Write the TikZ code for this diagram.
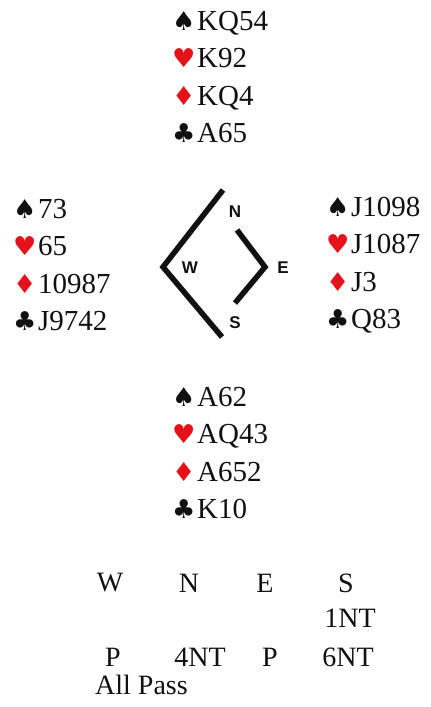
\documentclass[tikz,border=0pt]{standalone}
\usepackage{fontspec}
\setmainfont{Liberation Serif}
\setsansfont{Liberation Sans}
\newfontfamily\suitfont{DejaVu Sans}
\definecolor{SuitRed}{HTML}{E3121B}
\definecolor{Ink}{HTML}{111111}
\newcommand{\suitsym}[2]{\makebox[25pt][l]{\suitfont\fontsize{26}{26}\selectfont\textcolor{#1}{#2}}}
\newcommand{\spd}{\suitsym{Ink}{♠}}
\newcommand{\hrt}{\suitsym{SuitRed}{♥}}
\newcommand{\dmd}{\suitsym{SuitRed}{♦}}
\newcommand{\clb}{\suitsym{Ink}{♣}}
\tikzset{
  hand/.style={anchor=west,align=left,inner sep=0pt,text=Ink,font=\fontsize{29}{37.5}\selectfont},
  bid/.style={inner sep=0pt,text=Ink,font=\fontsize{28}{28}\selectfont},
  seat/.style={inner sep=0pt,text=Ink,font=\sffamily\bfseries\fontsize{17}{17}\selectfont},
  compass/.style={draw=Ink,line width=5.5pt,line join=miter}
}

\begin{document}
\begin{tikzpicture}[x=1pt,y=-1pt]
  \useasboundingbox[fill=white] (0,0) rectangle (431,707);

  % the four hands
  \node[hand] (north) at (172,77) {\spd KQ54\\\hrt K92\\\dmd KQ4\\\clb A65};
  \node[hand] (west) at (13,265) {\spd 73\\\hrt 65\\\dmd 10987\\\clb J9742};
  \node[hand] (east) at (326,265) {\spd J1098\\\hrt J1087\\\dmd J3\\\clb Q83};
  \node[hand] (south) at (172,453) {\spd A62\\\hrt AQ43\\\dmd A652\\\clb K10};

  % compass
  \coordinate (cnw) at (223,190);
  \coordinate (cw) at (163,267);
  \coordinate (csw) at (222,337);
  \coordinate (cne) at (237,230);
  \coordinate (ce) at (265,267);
  \coordinate (cse) at (235,303);
  \draw[compass] (cnw) -- (cw) -- (csw);
  \draw[compass] (cne) -- (ce) -- (cse);
  \node[seat] (seatn) at (235,212) {N};
  \node[seat] (seatw) at (190,268) {W};
  \node[seat] (seate) at (283,268) {E};
  \node[seat] (seats) at (235,323) {S};

  % bidding
  \node[bid] (bidw) at (110,583) {W};
  \node[bid] (bidn) at (189,583) {N};
  \node[bid] (bide) at (265,583) {E};
  \node[bid] (bids) at (346,583) {S};
  \node[bid] (bid1) at (350,618) {1NT};
  \node[bid] (bid2) at (113,657) {P};
  \node[bid] (bid3) at (200,657) {4NT};
  \node[bid] (bid4) at (270,657) {P};
  \node[bid] (bid5) at (348,657) {6NT};
  \node[bid,anchor=west] (allpass) at (95,685) {All Pass};
\end{tikzpicture}
\end{document}
